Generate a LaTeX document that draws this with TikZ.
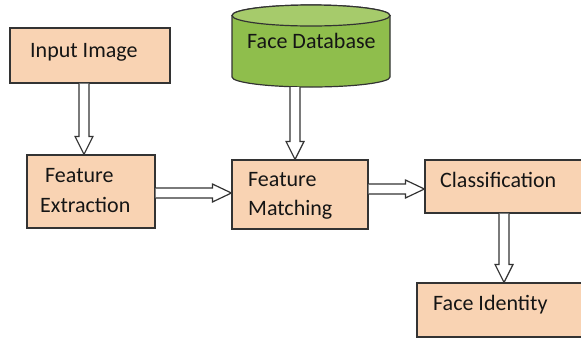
\documentclass[tikz,border=0pt]{standalone}
\usepackage{fontspec}
\setmainfont{Carlito}
\usetikzlibrary{calc}
\definecolor{peach}{HTML}{F9D3B3}
\definecolor{dbgreen}{HTML}{8FBE4C}
\definecolor{dbtop}{HTML}{A6CB6B}
\definecolor{edge}{HTML}{333333}
\definecolor{ink}{HTML}{151515}
\tikzset{
  boxnode/.style={rectangle, draw=edge, fill=peach, line width=1.2pt, inner sep=0pt},
  lbl/.style={anchor=base west, inner sep=0pt, text=ink, font=\fontsize{22bp}{26bp}\selectfont},
  hollow/.style={draw=edge, fill=white, line width=1.2pt, line join=miter}
}
\newcommand\varr[2]{%
  \draw[hollow] ($(#1)+(-5,0)$) -- ($(#2)+(-5,-18)$) -- ($(#2)+(-9,-18)$) -- (#2)
    -- ($(#2)+(9,-18)$) -- ($(#2)+(5,-18)$) -- ($(#1)+(5,0)$);}
\newcommand\harr[2]{%
  \draw[hollow] ($(#1)+(0,-5)$) -- ($(#2)+(-19,-5)$) -- ($(#2)+(-19,-9)$) -- (#2)
    -- ($(#2)+(-19,9)$) -- ($(#2)+(-19,5)$) -- ($(#1)+(0,5)$);}
\begin{document}
\begin{tikzpicture}[x=1bp, y=-1bp]
\useasboundingbox (0,0) rectangle (581,340);
\clip (0,0) rectangle (581,340);
\fill[white] (0,0) rectangle (581,340);
% boxes
\node[boxnode, minimum width=160bp, minimum height=55bp] (ii) at (90,55.5) {};
\node[boxnode, minimum width=128bp, minimum height=73bp] (fe) at (91,191.5) {};
\node[boxnode, minimum width=136bp, minimum height=69bp] (fm) at (300,194.5) {};
\node[boxnode, minimum width=165bp, minimum height=53bp] (cl) at (507.5,186.5) {};
\node[boxnode, minimum width=173bp, minimum height=54bp] (fi) at (503.5,310) {};
% database cylinder
\filldraw[fill=dbgreen, draw=edge, line width=1.2pt] (232,15.5) -- (232,77)
  arc[start angle=180, end angle=0, x radius=79, y radius=10] -- (390,15.5)
  arc[start angle=0, end angle=-180, x radius=79, y radius=10.5] -- cycle;
\filldraw[fill=dbtop, draw=edge, line width=1.2pt] (311,15.5) ellipse[x radius=79, y radius=10.5];
\coordinate (db) at (295,87);
% labels
\node[lbl] (t1) at (30,57) {Input Image};
\node[lbl] (t2) at (247,48) {Face Database};
\node[lbl] (t3) at (45,182) {Feature};
\node[lbl] (t4) at (40,212) {Extraction};
\node[lbl] (t5) at (248,186) {Feature};
\node[lbl] (t6) at (248,215) {Matching};
\node[lbl] (t7) at (440,187) {Classification};
\node[lbl] (t8) at (433,310) {Face Identity};
% connector anchors
\coordinate (a1s) at ($(ii.south)+(-6,0)$);
\coordinate (a1e) at ($(fe.north)+(-7,0)$);
\coordinate (a2e) at ($(fm.north)+(-5,0)$);
\coordinate (a3s) at ($(fe.east)+(0,1.5)$);
\coordinate (a3e) at ($(fm.west)+(0,-1.5)$);
\coordinate (a4s) at ($(fm.east)+(0,-5.5)$);
\coordinate (a4e) at ($(cl.west)+(0,2.5)$);
\coordinate (a5s) at ($(cl.south)+(-3.5,0)$);
\coordinate (a5e) at ($(fi.north)+(0.5,0)$);
% connectors
\varr{a1s}{a1e}
\varr{db}{a2e}
\harr{a3s}{a3e}
\harr{a4s}{a4e}
\varr{a5s}{a5e}
\end{tikzpicture}
\end{document}
